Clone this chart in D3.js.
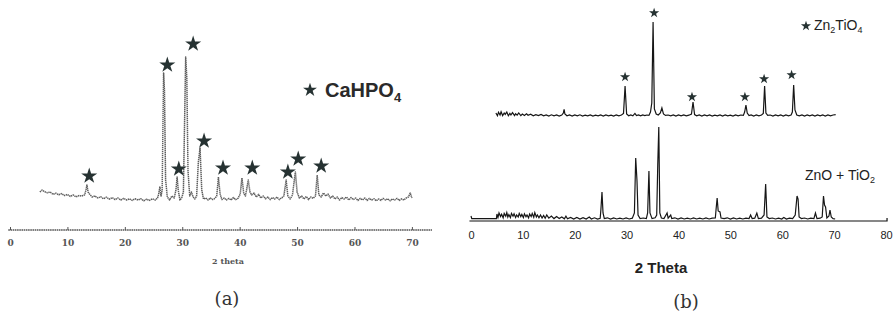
<!DOCTYPE html>
<html>
<head>
<meta charset="utf-8">
<script src="https://cdn.jsdelivr.net/npm/d3@7"></script>
<style>
  body { margin: 0; background: #fff; }
  svg { display: block; }
</style>
</head>
<body>
<div id="chart"></div>
<script>
// (a) CaHPO4 pattern, [2theta, intensity a.u.]
const caHPO4 = [
  [5.2,190],[5.6,200],[6.0,192],[6.5,186],[7.0,190],[7.5,178],[8.0,184],[8.5,176],[9.0,182],[9.5,172],
  [10.0,178],[10.5,168],[11.0,175],[11.5,166],[12.0,172],[12.5,170],[13.0,176],[13.2,196],[13.4,225],[13.6,190],
  [13.9,178],[14.3,165],[14.8,170],[15.3,160],[15.8,166],[16.3,156],[16.8,164],[17.3,154],[17.8,162],[18.3,152],
  [18.8,160],[19.3,150],[19.8,158],[20.3,150],[20.8,156],[21.3,148],[21.8,156],[22.3,150],[22.8,156],[23.3,146],
  [23.8,154],[24.3,148],[24.8,156],[25.3,150],[25.7,160],[25.9,180],[26.1,215],[26.3,170],[26.5,200],[26.75,785],
  [26.9,700],[27.1,250],[27.4,165],[27.8,150],[28.2,170],[28.6,160],[28.9,200],[29.1,265],[29.3,200],[29.6,150],
  [29.9,160],[30.2,190],[30.6,865],[30.8,760],[31.0,300],[31.3,170],[31.6,190],[31.9,165],[32.2,155],[32.5,170],
  [32.8,340],[33.1,410],[33.4,200],[33.7,155],[34.1,160],[34.5,150],[34.9,160],[35.3,152],[35.7,158],[36.0,170],
  [36.3,265],[36.6,180],[36.9,152],[37.3,160],[37.7,150],[38.1,158],[38.5,150],[38.9,162],[39.3,152],[39.7,158],
  [40.1,180],[40.4,260],[40.7,185],[41.0,170],[41.2,200],[41.5,250],[41.8,190],[42.1,175],[42.5,185],[42.9,165],
  [43.3,178],[43.7,160],[44.1,170],[44.5,156],[44.9,165],[45.3,152],[45.7,162],[46.1,155],[46.5,165],[46.9,152],
  [47.3,160],[47.7,170],[48.1,250],[48.4,170],[48.8,155],[49.2,175],[49.7,290],[50.0,190],[50.4,160],[50.8,170],
  [51.2,155],[51.6,168],[52.0,152],[52.4,165],[52.8,158],[53.2,170],[53.5,275],[53.8,175],[54.2,165],[54.6,185],
  [55.0,170],[55.4,180],[55.8,160],[56.2,170],[56.6,155],[57.0,165],[57.4,150],[57.8,162],[58.2,155],[58.6,165],
  [59.0,150],[59.4,162],[59.8,152],[60.2,160],[60.6,148],[61.0,158],[61.4,150],[61.8,160],[62.2,148],[62.6,158],
  [63.0,150],[63.4,156],[63.8,146],[64.2,155],[64.6,148],[65.0,158],[65.4,150],[65.8,156],[66.2,146],[66.6,155],
  [67.0,150],[67.4,158],[67.8,148],[68.2,156],[68.6,150],[69.0,160],[69.4,165],[69.7,185],[70.0,160]
];
const caStars = [
  [13.8,270],[27.4,825],[29.4,305],[31.9,930],[33.8,445],
  [37.1,310],[42.2,310],[48.4,290],[50.2,355],[54.2,320]
];
const ticksA = [0, 10, 20, 30, 40, 50, 60, 70];

// (b) Zn2TiO4 (upper, drawn with offset) and ZnO + TiO2 (lower)
const zn2TiO4 = [
  [4.8,40],[5.1,26],[5.3,44],[5.6,30],[5.8,46],[6.1,27],[6.4,40],[6.6,33],[6.9,45],[7.2,26],
  [7.5,38],[7.7,30],[8.0,42],[8.4,27],[8.6,36],[8.9,29],[9.2,40],[9.6,27],[9.9,35],[10.3,28],
  [10.7,36],[11.0,29],[11.5,34],[12.0,26],[12.5,32],[13.0,27],[13.5,33],[14.0,26],[14.5,30],[15.0,25],
  [15.5,31],[16.0,26],[16.5,30],[17.0,25],[17.5,30],[17.8,40],[17.95,58],[18.1,35],[18.5,26],[19.0,30],
  [19.5,25],[20.0,30],[20.5,26],[21.0,31],[21.5,25],[22.0,29],[22.5,26],[23.0,30],[23.5,25],[24.0,29],
  [24.5,26],[25.0,30],[25.5,25],[26.0,30],[26.5,26],[27.0,29],[27.5,25],[28.0,30],[28.5,26],[29.0,30],
  [29.4,38],[29.7,175],[30.0,35],[30.4,26],[30.8,30],[31.2,26],[31.6,38],[31.9,27],[32.3,30],[32.7,26],
  [33.1,30],[33.5,27],[33.9,30],[34.3,28],[34.6,45],[34.85,90],[35.1,495],[35.35,60],[35.7,35],[36.1,30],
  [36.5,40],[36.8,65],[37.1,35],[37.5,28],[38.0,30],[38.5,26],[39.0,30],[39.5,25],[40.0,30],[40.5,26],
  [41.0,30],[41.5,26],[42.0,29],[42.5,35],[42.8,95],[43.1,32],[43.5,26],[44.0,30],[44.5,25],[45.0,30],
  [45.5,26],[46.0,30],[46.5,25],[47.0,29],[47.5,26],[48.0,30],[48.5,25],[49.0,30],[49.5,26],[50.0,29],
  [50.5,25],[51.0,30],[51.5,26],[52.0,30],[52.5,28],[52.75,45],[53.0,80],[53.25,40],[53.6,27],[54.0,30],
  [54.5,25],[55.0,30],[55.5,26],[56.0,30],[56.35,38],[56.6,175],[56.85,40],[57.2,28],[57.7,30],[58.2,25],
  [58.7,30],[59.2,26],[59.7,30],[60.2,25],[60.7,30],[61.2,26],[61.7,30],[61.95,45],[62.2,180],[62.45,55],
  [62.8,30],[63.3,26],[63.8,30],[64.3,25],[64.8,30],[65.3,26],[65.8,30],[66.3,25],[66.8,30],[67.3,26],
  [67.8,30],[68.3,25],[68.8,30],[69.3,26],[69.8,30],[70.3,32]
];
const znoTiO2 = [
  [0,25],[0.15,12],[4.9,12],[5.0,35],[5.2,18],[5.4,40],[5.7,22],[5.9,34],[6.2,16],[6.4,38],
  [6.7,24],[6.9,42],[7.1,20],[7.3,32],[7.6,17],[7.8,38],[8.1,24],[8.3,36],[8.6,18],[8.8,30],
  [9.1,20],[9.3,38],[9.6,22],[9.8,33],[10.1,17],[10.3,36],[10.6,21],[10.8,30],[11.1,16],[11.3,35],
  [11.6,22],[11.8,38],[12.1,19],[12.3,42],[12.6,20],[12.8,30],[13.1,16],[13.4,30],[13.7,15],[14.0,28],
  [14.3,14],[14.6,30],[15.0,14],[15.5,25],[16.0,12],[16.5,22],[17.0,12],[17.5,20],[18.0,11],[18.3,24],
  [18.6,11],[19.2,18],[19.8,10],[20.4,18],[21.0,10],[21.6,17],[22.2,10],[22.8,20],[23.2,10],[23.8,16],
  [24.4,10],[24.9,14],[25.05,60],[25.25,145],[25.45,40],[25.7,12],[26.3,16],[26.9,10],[27.5,15],[28.1,10],
  [28.7,14],[29.3,10],[29.9,15],[30.5,10],[31.1,14],[31.5,40],[31.75,315],[32.0,200],[32.2,30],[32.6,12],
  [33.2,15],[33.8,12],[34.05,40],[34.3,250],[34.5,40],[34.9,12],[35.5,16],[35.8,30],[36.0,280],[36.2,470],
  [36.4,40],[36.7,15],[37.2,12],[37.8,40],[38.0,14],[38.5,30],[38.7,12],[39.3,16],[39.9,10],[40.5,15],
  [41.1,10],[41.7,14],[42.3,10],[42.9,15],[43.5,10],[44.1,14],[44.7,10],[45.3,15],[45.9,10],[46.5,14],
  [47.1,15],[47.25,60],[47.45,115],[47.65,50],[48.0,45],[48.2,15],[48.8,12],[49.4,16],[50.0,10],[50.6,15],
  [51.2,10],[51.8,14],[52.4,10],[53.0,14],[53.6,12],[53.9,30],[54.2,12],[54.7,14],[55.1,40],[55.4,12],
  [56.0,14],[56.5,30],[56.8,185],[57.05,20],[57.5,12],[58.1,15],[58.7,10],[59.3,14],[59.9,10],[60.3,18],
  [60.8,10],[61.4,14],[62.0,12],[62.5,30],[62.85,125],[63.05,110],[63.25,20],[63.7,12],[64.3,15],[64.9,10],
  [65.5,14],[66.1,12],[66.4,40],[66.7,12],[67.3,14],[67.7,20],[67.95,125],[68.15,80],[68.35,70],[68.6,15],
  [69.0,25],[69.2,55],[69.45,20],[69.8,12],[70.2,10]
];
const znStars = [[29.7,220],[35.3,540],[42.6,120],[52.8,120],[56.5,210],[61.8,230]];
const ticksB = [0, 10, 20, 30, 40, 50, 60, 70, 80];
const upperOffset = 500;

const W = 893, H = 321;
const starColor = '#263232';

const svg = d3.select('#chart').append('svg')
  .attr('width', W).attr('height', H);

// ---------- panel (a) ----------
const xA = d3.scaleLinear().domain([0, 73.5]).range([10, 432]);
const yA = d3.scaleLinear().domain([0, 1000]).range([230, 30]);

const gA = svg.append('g');

const axisA = gA.append('g')
  .attr('transform', 'translate(0,230)')
  .call(d3.axisBottom(xA).tickValues(ticksA).tickSize(-3).tickPadding(10).tickFormat(d3.format('d')));
axisA.select('.domain').attr('stroke', '#555').attr('stroke-width', 1.4).attr('stroke-dasharray', '1.6 0.6')
  .attr('d', `M${xA(-0.3)},0H${xA(73.5)}`);
axisA.selectAll('.tick line').attr('stroke', '#555');
axisA.selectAll('.tick text')
  .attr('font-family', 'DejaVu Serif').attr('font-weight', 'bold').attr('font-size', 9).attr('fill', '#555');

gA.append('text')
  .attr('x', 228).attr('y', 264).attr('text-anchor', 'middle')
  .attr('font-family', 'DejaVu Serif').attr('font-weight', 'bold').attr('font-size', 8).attr('fill', '#555')
  .text('2 theta');

let lineA = d3.line().x(d => xA(d[0])).y(d => yA(d[1]));
gA.append('path').datum(caHPO4)
  .attr('d', lineA).attr('fill', 'none')
  .attr('stroke', '#5e5e5e').attr('stroke-width', 1.5).attr('stroke-dasharray', '1.4 0.6')
  .attr('stroke-linejoin', 'round');

let starBig = d3.symbol().type(d3.symbolStar).size(80);
gA.selectAll('path.star').data(caStars).enter().append('path')
  .attr('class', 'star')
  .attr('d', starBig)
  .attr('transform', d => `translate(${xA(d[0])},${yA(d[1])})`)
  .attr('fill', starColor);

// legend (a)
gA.append('path').attr('d', d3.symbol().type(d3.symbolStar).size(60))
  .attr('transform', 'translate(310,90)').attr('fill', starColor);
let legA = gA.append('text')
  .attr('x', 325).attr('y', 97)
  .attr('font-family', 'Liberation Sans, Arial, sans-serif').attr('font-weight', 'bold')
  .attr('font-size', 20).attr('fill', '#2a2a2a');
legA.append('tspan').text('CaHPO');
legA.append('tspan').attr('font-size', 13).attr('dy', 5).text('4');

gA.append('text')
  .attr('x', 227).attr('y', 305).attr('text-anchor', 'middle')
  .attr('font-family', 'DejaVu Serif').attr('font-size', 18).attr('fill', '#333')
  .text('(a)');

// ---------- panel (b) ----------
const xB = d3.scaleLinear().domain([0, 80]).range([471, 886]);
const yB = d3.scaleLinear().domain([0, 1000]).range([221, 21]);

const gB = svg.append('g');

const axisB = gB.append('g')
  .attr('transform', 'translate(0,221)')
  .call(d3.axisBottom(xB).tickValues(ticksB).tickSize(0).tickPadding(10).tickFormat(d3.format('d')));
axisB.select('.domain').attr('stroke', '#111').attr('stroke-width', 1.2)
  .attr('d', `M${xB(-0.3)},0H${xB(80.2)}V-3`);
axisB.selectAll('.tick text')
  .attr('font-family', 'Liberation Sans, Arial, sans-serif').attr('font-size', 11).attr('fill', '#222');

gB.append('text')
  .attr('x', 661).attr('y', 273).attr('text-anchor', 'middle')
  .attr('font-family', 'Liberation Sans, Arial, sans-serif').attr('font-weight', 'bold')
  .attr('font-size', 15).attr('fill', '#222')
  .text('2 Theta');

let lineB = d3.line().x(d => xB(d[0])).y(d => yB(d[1]));
let lineBUp = d3.line().x(d => xB(d[0])).y(d => yB(d[1] + upperOffset));

gB.append('path').datum(znoTiO2)
  .attr('d', lineB).attr('fill', 'none')
  .attr('stroke', '#161616').attr('stroke-width', 1.2);
gB.append('path').datum(zn2TiO4)
  .attr('d', lineBUp).attr('fill', 'none')
  .attr('stroke', '#161616').attr('stroke-width', 1.2);

let starSmall = d3.symbol().type(d3.symbolStar).size(32);
gB.selectAll('path.star').data(znStars).enter().append('path')
  .attr('class', 'star')
  .attr('d', starSmall)
  .attr('transform', d => `translate(${xB(d[0])},${yB(d[1] + upperOffset)})`)
  .attr('fill', starColor);

// legend (b)
gB.append('path').attr('d', starSmall)
  .attr('transform', 'translate(806,26)').attr('fill', starColor);
let legB = gB.append('text')
  .attr('x', 814).attr('y', 30)
  .attr('font-family', 'Liberation Sans, Arial, sans-serif')
  .attr('font-size', 14).attr('fill', '#222');
legB.append('tspan').text('Zn');
legB.append('tspan').attr('font-size', 9).attr('dy', 3).text('2');
legB.append('tspan').attr('dy', -3).text('TiO');
legB.append('tspan').attr('font-size', 9).attr('dy', 3).text('4');

let legC = gB.append('text')
  .attr('x', 805).attr('y', 180)
  .attr('font-family', 'Liberation Sans, Arial, sans-serif')
  .attr('font-size', 14).attr('fill', '#222');
legC.append('tspan').text('ZnO + TiO');
legC.append('tspan').attr('font-size', 9).attr('dy', 3).text('2');

gB.append('text')
  .attr('x', 686).attr('y', 308).attr('text-anchor', 'middle')
  .attr('font-family', 'DejaVu Serif').attr('font-size', 18).attr('fill', '#333')
  .text('(b)');
</script>
</body>
</html>
